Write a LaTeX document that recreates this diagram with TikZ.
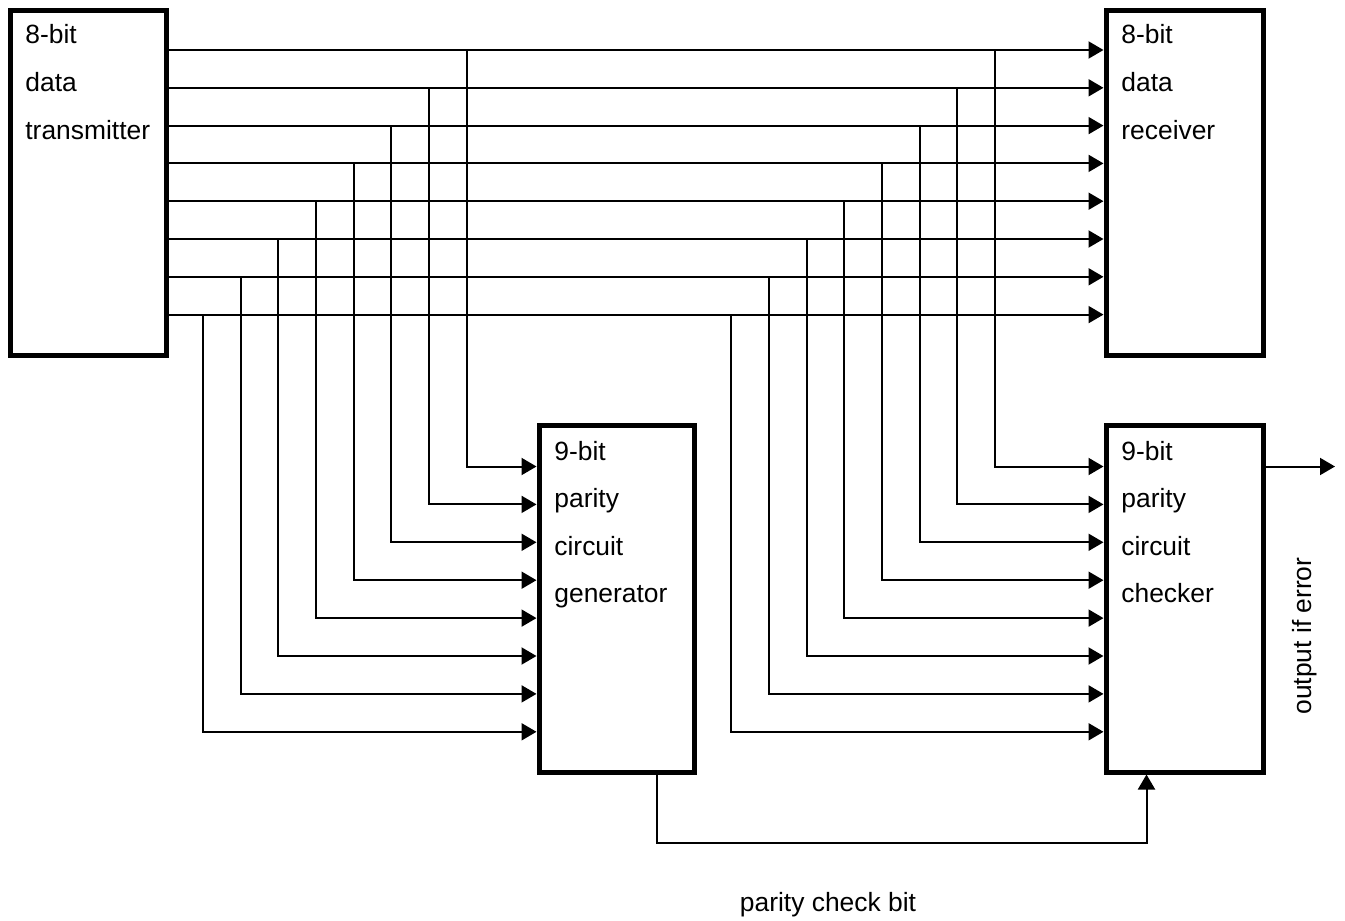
\documentclass[tikz,border=0pt]{standalone}
\usepackage{fontspec}
\setmainfont{Liberation Sans}
\usetikzlibrary{arrows.meta}
\begin{document}
\begin{tikzpicture}[x=0.5pt,y=-0.5pt,
  blk/.style={draw, line width=2.5pt, inner sep=0pt},
  wire/.style={line width=1pt},
  feed/.style={wire, -{Triangle[length=7.5pt,width=8.5pt]}},
  lbl/.style={anchor=base west, inner sep=0pt, font=\fontsize{13.2}{16}\selectfont},
  txt/.style={inner sep=0pt, font=\fontsize{13.2}{16}\selectfont}]
\useasboundingbox (0,0) rectangle (1345,921);

% the four blocks
\node[blk, minimum width=78pt,   minimum height=172.5pt] (tx)  at (88,182.5) {};
\node[blk, minimum width=78.5pt, minimum height=172.5pt] (rx)  at (1184.5,182.5) {};
\node[blk, minimum width=77.5pt, minimum height=173.5pt] (gen) at (616.5,598.5) {};
\node[blk, minimum width=78.5pt, minimum height=173.5pt] (chk) at (1184.5,598.5) {};

% block captions
\node[lbl] (tx1) at (25,43)  {8-bit};
\node[lbl] (tx2) at (25,91)  {data};
\node[lbl] (tx3) at (25,139) {transmitter};
\node[lbl] (rx1) at (1121,43)  {8-bit};
\node[lbl] (rx2) at (1121,91)  {data};
\node[lbl] (rx3) at (1121,139) {receiver};
\node[lbl] (gen1) at (554,460)   {9-bit};
\node[lbl] (gen2) at (554,507.5) {parity};
\node[lbl] (gen3) at (554,555)   {circuit};
\node[lbl] (gen4) at (554,602.5) {generator};
\node[lbl] (chk1) at (1121,460)   {9-bit};
\node[lbl] (chk2) at (1121,507.5) {parity};
\node[lbl] (chk3) at (1121,555)   {circuit};
\node[lbl] (chk4) at (1121,602.5) {checker};

% eight data lines with their taps to generator and checker
\foreach \i in {1,...,8} {
  \coordinate (r\i) at (0,{50+37.8*(\i-1)});
  \coordinate (g\i) at ({466.7-37.7*(\i-1)},{466.5+37.9*(\i-1)});
  \coordinate (c\i) at ({995-37.7*(\i-1)},{466.5+37.9*(\i-1)});
  \draw[feed] (tx.east |- r\i) -- (rx.west |- r\i);
  \draw[feed] (g\i |- r\i) -- (g\i) -- (gen.west |- g\i);
  \draw[feed] (c\i |- r\i) -- (c\i) -- (chk.west |- c\i);
}

% parity check bit from generator to checker
\coordinate (pb1) at (656.5,843);
\coordinate (pb2) at (1146.5,843);
\draw[feed] (gen.south -| pb1) -- (pb1) -- (pb2) -- (chk.south -| pb2);

% error output
\coordinate (out) at (1335,466.5);
\draw[feed] (chk.east |- out) -- (out);

\node[txt, rotate=90] (err) at (1305,636) {output if error};
\node[txt] (pcb) at (828,905) {parity check bit};
\end{tikzpicture}
\end{document}
